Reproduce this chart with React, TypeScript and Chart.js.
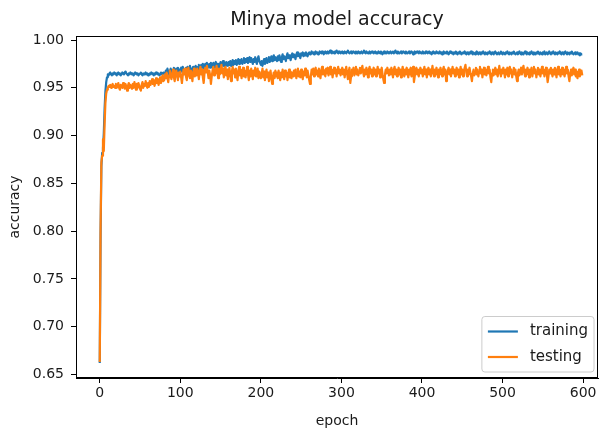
import React, { useEffect, useRef } from 'react';
import { Chart, registerables } from 'chart.js';

Chart.register(...registerables);

const chartTitle = 'Minya model accuracy';
const xAxisTitle = 'epoch';
const yAxisTitle = 'accuracy';
const seriesLabels = ['training', 'testing'];
const seriesColors = ['#1f77b4', '#ff7f0e'];

const xTicks = [0, 100, 200, 300, 400, 500, 600];
const yTicks = [0.65, 0.7, 0.75, 0.8, 0.85, 0.9, 0.95, 1.0];

// accuracy per epoch (0..599)
const trainingAcc = [
  0.662, 0.795, 0.868, 0.882, 0.887, 0.902, 0.928, 0.946, 0.956, 0.961, 0.964, 0.963, 0.965, 0.966, 0.964, 0.963, 0.965, 0.964, 0.966, 0.965,
  0.964, 0.963, 0.965, 0.966, 0.964, 0.965, 0.963, 0.964, 0.966, 0.965, 0.964, 0.966, 0.967, 0.965, 0.964, 0.963, 0.965, 0.964, 0.966, 0.965,
  0.964, 0.965, 0.963, 0.964, 0.966, 0.965, 0.964, 0.965, 0.963, 0.964, 0.965, 0.966, 0.964, 0.963, 0.965, 0.964, 0.965, 0.966, 0.964, 0.965,
  0.963, 0.964, 0.965, 0.964, 0.966, 0.965, 0.964, 0.963, 0.965, 0.964, 0.966, 0.965, 0.964, 0.965, 0.963, 0.964, 0.966, 0.965, 0.964, 0.966,
  0.966, 0.964, 0.968, 0.966, 0.970, 0.967, 0.964, 0.967, 0.970, 0.968, 0.965, 0.969, 0.971, 0.967, 0.965, 0.970, 0.967, 0.971, 0.969, 0.966,
  0.968, 0.971, 0.967, 0.972, 0.968, 0.965, 0.969, 0.971, 0.967, 0.972, 0.969, 0.971, 0.973, 0.968, 0.966, 0.970, 0.972, 0.968, 0.971, 0.973,
  0.971, 0.967, 0.972, 0.974, 0.969, 0.971, 0.974, 0.971, 0.975, 0.970, 0.972, 0.975, 0.972, 0.976, 0.971, 0.973, 0.975, 0.971, 0.976, 0.974,
  0.972, 0.976, 0.971, 0.974, 0.977, 0.972, 0.975, 0.970, 0.975, 0.973, 0.977, 0.972, 0.975, 0.978, 0.973, 0.976, 0.972, 0.977, 0.975, 0.973,
  0.977, 0.974, 0.978, 0.973, 0.976, 0.979, 0.974, 0.978, 0.975, 0.979, 0.974, 0.977, 0.980, 0.975, 0.979, 0.976, 0.980, 0.975, 0.978, 0.981,
  0.976, 0.980, 0.977, 0.981, 0.976, 0.979, 0.982, 0.977, 0.981, 0.978, 0.975, 0.980, 0.977, 0.982, 0.978, 0.975, 0.980, 0.983, 0.978, 0.976,
  0.974, 0.978, 0.973, 0.977, 0.980, 0.975, 0.978, 0.981, 0.976, 0.979, 0.982, 0.977, 0.980, 0.983, 0.978, 0.981, 0.984, 0.979, 0.982, 0.980,
  0.978, 0.983, 0.979, 0.984, 0.980, 0.977, 0.982, 0.985, 0.980, 0.983, 0.981, 0.978, 0.983, 0.986, 0.981, 0.984, 0.982, 0.979, 0.984, 0.986,
  0.982, 0.985, 0.983, 0.980, 0.985, 0.987, 0.983, 0.986, 0.984, 0.981, 0.986, 0.984, 0.987, 0.983, 0.986, 0.984, 0.987, 0.985, 0.983, 0.986,
  0.987, 0.985, 0.986, 0.988, 0.986, 0.987, 0.985, 0.987, 0.988, 0.986, 0.987, 0.985, 0.986, 0.988, 0.987, 0.986, 0.988, 0.987, 0.985, 0.987,
  0.988, 0.986, 0.987, 0.988, 0.986, 0.987, 0.989, 0.987, 0.986, 0.988, 0.987, 0.986, 0.988, 0.987, 0.989, 0.987, 0.986, 0.988, 0.987, 0.986,
  0.987, 0.988, 0.986, 0.987, 0.988, 0.987, 0.986, 0.988, 0.989, 0.987, 0.986, 0.987, 0.988, 0.986, 0.987, 0.988, 0.987, 0.986, 0.988, 0.987,
  0.986, 0.988, 0.987, 0.986, 0.987, 0.988, 0.986, 0.987, 0.989, 0.987, 0.986, 0.988, 0.987, 0.986, 0.987, 0.988, 0.986, 0.987, 0.988, 0.987,
  0.986, 0.987, 0.988, 0.986, 0.987, 0.986, 0.988, 0.987, 0.986, 0.988, 0.987, 0.985, 0.987, 0.988, 0.986, 0.987, 0.986, 0.988, 0.987, 0.986,
  0.987, 0.988, 0.986, 0.987, 0.988, 0.986, 0.987, 0.989, 0.987, 0.986, 0.988, 0.987, 0.986, 0.987, 0.988, 0.986, 0.987, 0.988, 0.987, 0.986,
  0.988, 0.987, 0.986, 0.987, 0.988, 0.986, 0.987, 0.988, 0.987, 0.985, 0.987, 0.988, 0.986, 0.987, 0.988, 0.987, 0.986, 0.988, 0.987, 0.986,
  0.987, 0.988, 0.986, 0.987, 0.986, 0.988, 0.987, 0.986, 0.987, 0.988, 0.986, 0.987, 0.985, 0.987, 0.988, 0.986, 0.987, 0.986, 0.988, 0.987,
  0.986, 0.987, 0.988, 0.986, 0.987, 0.985, 0.987, 0.988, 0.986, 0.987, 0.986, 0.988, 0.987, 0.985, 0.986, 0.988, 0.987, 0.986, 0.987, 0.985,
  0.987, 0.986, 0.988, 0.986, 0.985, 0.987, 0.986, 0.988, 0.987, 0.985, 0.986, 0.987, 0.986, 0.988, 0.986, 0.985, 0.987, 0.986, 0.985, 0.987,
  0.986, 0.988, 0.986, 0.985, 0.987, 0.986, 0.985, 0.987, 0.988, 0.986, 0.985, 0.987, 0.986, 0.985, 0.987, 0.986, 0.988, 0.986, 0.985, 0.987,
  0.986, 0.985, 0.987, 0.986, 0.988, 0.986, 0.985, 0.987, 0.986, 0.985, 0.987, 0.988, 0.986, 0.985, 0.986, 0.987, 0.985, 0.986, 0.988, 0.986,
  0.985, 0.987, 0.986, 0.985, 0.987, 0.986, 0.988, 0.986, 0.985, 0.987, 0.986, 0.985, 0.987, 0.986, 0.988, 0.986, 0.985, 0.986, 0.987, 0.985,
  0.986, 0.988, 0.986, 0.985, 0.987, 0.986, 0.985, 0.987, 0.988, 0.986, 0.985, 0.987, 0.986, 0.985, 0.987, 0.986, 0.988, 0.986, 0.985, 0.987,
  0.986, 0.985, 0.987, 0.986, 0.988, 0.986, 0.985, 0.987, 0.986, 0.985, 0.987, 0.986, 0.988, 0.985, 0.986, 0.987, 0.985, 0.986, 0.988, 0.986,
  0.985, 0.987, 0.986, 0.988, 0.986, 0.985, 0.987, 0.986, 0.985, 0.987, 0.986, 0.988, 0.986, 0.985, 0.987, 0.986, 0.985, 0.987, 0.988, 0.986,
  0.985, 0.987, 0.986, 0.985, 0.987, 0.986, 0.988, 0.986, 0.985, 0.986, 0.987, 0.985, 0.986, 0.987, 0.985, 0.986, 0.984, 0.986, 0.985, 0.985,
];

const testingAcc = [
  0.663, 0.802, 0.872, 0.879, 0.896, 0.884, 0.912, 0.934, 0.944, 0.948, 0.950, 0.952, 0.951, 0.953, 0.950, 0.952, 0.954, 0.951, 0.952, 0.950,
  0.954, 0.950, 0.952, 0.955, 0.950, 0.948, 0.953, 0.951, 0.950, 0.955, 0.952, 0.949, 0.954, 0.951, 0.947, 0.952, 0.955, 0.950, 0.953, 0.951,
  0.949, 0.954, 0.950, 0.956, 0.952, 0.948, 0.954, 0.950, 0.955, 0.952, 0.949, 0.947, 0.953, 0.956, 0.950, 0.954, 0.952, 0.957, 0.953, 0.950,
  0.955, 0.951, 0.957, 0.953, 0.956, 0.959, 0.954, 0.958, 0.952, 0.956, 0.960, 0.955, 0.959, 0.953, 0.957, 0.961, 0.955, 0.959, 0.963, 0.957,
  0.958, 0.964, 0.960, 0.966, 0.961, 0.956, 0.963, 0.968, 0.962, 0.959, 0.965, 0.969, 0.961, 0.957, 0.964, 0.968, 0.963, 0.958, 0.966, 0.962,
  0.967, 0.961, 0.955, 0.963, 0.969, 0.964, 0.970, 0.962, 0.958, 0.966, 0.971, 0.963, 0.960, 0.968, 0.964, 0.957, 0.966, 0.970, 0.962, 0.968,
  0.963, 0.970, 0.966, 0.959, 0.967, 0.972, 0.964, 0.969, 0.961, 0.955, 0.965, 0.971, 0.966, 0.973, 0.967, 0.960, 0.968, 0.963, 0.954, 0.962,
  0.968, 0.972, 0.963, 0.969, 0.965, 0.973, 0.967, 0.960, 0.970, 0.964, 0.968, 0.974, 0.965, 0.970, 0.961, 0.967, 0.972, 0.963, 0.969, 0.959,
  0.965, 0.971, 0.963, 0.957, 0.967, 0.972, 0.965, 0.969, 0.961, 0.970, 0.964, 0.958, 0.967, 0.972, 0.963, 0.969, 0.960, 0.966, 0.971, 0.962,
  0.968, 0.961, 0.966, 0.972, 0.964, 0.958, 0.968, 0.962, 0.970, 0.965, 0.959, 0.968, 0.963, 0.971, 0.962, 0.966, 0.970, 0.960, 0.967, 0.964,
  0.960, 0.965, 0.970, 0.961, 0.967, 0.958, 0.963, 0.969, 0.961, 0.966, 0.957, 0.962, 0.968, 0.960, 0.954, 0.961, 0.966, 0.960, 0.968, 0.962,
  0.966, 0.960, 0.968, 0.963, 0.958, 0.966, 0.961, 0.969, 0.963, 0.959, 0.968, 0.962, 0.966, 0.958, 0.964, 0.969, 0.961, 0.967, 0.960, 0.966,
  0.962, 0.968, 0.963, 0.969, 0.960, 0.966, 0.970, 0.962, 0.967, 0.961, 0.969, 0.965, 0.959, 0.967, 0.963, 0.970, 0.965, 0.961, 0.968, 0.963,
  0.958, 0.954, 0.962, 0.969, 0.964, 0.970, 0.962, 0.967, 0.971, 0.964, 0.968, 0.962, 0.970, 0.966, 0.960, 0.968, 0.972, 0.964, 0.969, 0.965,
  0.962, 0.970, 0.965, 0.971, 0.963, 0.968, 0.972, 0.964, 0.969, 0.961, 0.967, 0.971, 0.965, 0.969, 0.962, 0.968, 0.972, 0.965, 0.969, 0.963,
  0.967, 0.971, 0.964, 0.969, 0.961, 0.967, 0.972, 0.965, 0.959, 0.967, 0.971, 0.955, 0.962, 0.969, 0.965, 0.971, 0.963, 0.968, 0.972, 0.964,
  0.969, 0.963, 0.967, 0.971, 0.965, 0.969, 0.973, 0.966, 0.962, 0.969, 0.964, 0.971, 0.967, 0.961, 0.969, 0.972, 0.965, 0.969, 0.962, 0.967,
  0.971, 0.964, 0.969, 0.962, 0.967, 0.972, 0.965, 0.969, 0.961, 0.967, 0.971, 0.964, 0.959, 0.955, 0.964, 0.969, 0.965, 0.971, 0.967, 0.963,
  0.969, 0.964, 0.971, 0.966, 0.961, 0.969, 0.972, 0.964, 0.969, 0.962, 0.967, 0.971, 0.964, 0.969, 0.961, 0.967, 0.972, 0.966, 0.962, 0.969,
  0.964, 0.971, 0.966, 0.961, 0.969, 0.964, 0.971, 0.962, 0.967, 0.972, 0.956, 0.962, 0.968, 0.971, 0.964, 0.969, 0.962, 0.967, 0.971, 0.965,
  0.969, 0.962, 0.967, 0.972, 0.964, 0.969, 0.961, 0.967, 0.971, 0.964, 0.969, 0.962, 0.967, 0.973, 0.966, 0.962, 0.969, 0.964, 0.971, 0.966,
  0.961, 0.969, 0.964, 0.971, 0.966, 0.962, 0.969, 0.972, 0.964, 0.969, 0.957, 0.963, 0.968, 0.971, 0.964, 0.969, 0.962, 0.967, 0.972, 0.965,
  0.969, 0.962, 0.967, 0.971, 0.964, 0.969, 0.961, 0.967, 0.972, 0.964, 0.969, 0.962, 0.967, 0.971, 0.974, 0.966, 0.962, 0.969, 0.964, 0.971,
  0.966, 0.962, 0.957, 0.965, 0.969, 0.963, 0.967, 0.971, 0.964, 0.969, 0.962, 0.967, 0.972, 0.965, 0.969, 0.961, 0.967, 0.971, 0.964, 0.969,
  0.963, 0.967, 0.972, 0.965, 0.969, 0.961, 0.956, 0.965, 0.969, 0.963, 0.967, 0.971, 0.964, 0.969, 0.962, 0.967, 0.973, 0.966, 0.962, 0.969,
  0.965, 0.971, 0.966, 0.961, 0.969, 0.964, 0.971, 0.962, 0.967, 0.972, 0.965, 0.969, 0.961, 0.967, 0.971, 0.964, 0.969, 0.962, 0.957, 0.965,
  0.969, 0.963, 0.967, 0.971, 0.964, 0.969, 0.973, 0.966, 0.962, 0.969, 0.964, 0.971, 0.967, 0.961, 0.969, 0.964, 0.971, 0.962, 0.967, 0.972,
  0.965, 0.969, 0.961, 0.967, 0.971, 0.964, 0.969, 0.962, 0.967, 0.972, 0.965, 0.969, 0.962, 0.967, 0.971, 0.964, 0.956, 0.962, 0.969, 0.965,
  0.971, 0.966, 0.962, 0.969, 0.964, 0.971, 0.966, 0.961, 0.969, 0.972, 0.964, 0.969, 0.962, 0.967, 0.971, 0.964, 0.969, 0.962, 0.967, 0.972,
  0.965, 0.969, 0.962, 0.957, 0.965, 0.969, 0.963, 0.967, 0.971, 0.964, 0.969, 0.962, 0.967, 0.960, 0.965, 0.969, 0.962, 0.966, 0.968, 0.963,
];

const epochs = trainingAcc.map((_, i) => i);

const FONT = '"DejaVu Sans", sans-serif';
const TEXT_COLOR = '#1a1a1a';

const framePlugin = {
  id: 'mplFrame',
  afterDatasetsDraw(chart: any) {
    const { ctx, chartArea } = chart;
    ctx.save();
    ctx.strokeStyle = '#000';
    ctx.lineWidth = 1;
    ctx.strokeRect(
      Math.round(chartArea.left) + 0.5,
      Math.round(chartArea.top) + 0.5,
      Math.round(chartArea.right - chartArea.left) - 1,
      Math.round(chartArea.bottom - chartArea.top) - 1
    );
    ctx.restore();
  },
};

const legendPlugin = {
  id: 'mplLegend',
  afterDraw(chart: any) {
    const { ctx, chartArea } = chart;
    const fs = 15;
    ctx.save();
    ctx.font = `${fs}px ${FONT}`;
    const ds = chart.data.datasets;
    const textW = Math.max(...ds.map((d: any) => ctx.measureText(d.label).width));
    const pad = 0.4 * fs;
    const handle = 2 * fs;
    const gap = 0.8 * fs;
    const rowH = 1.2 * fs;
    const spacing = 0.5 * fs;
    const w = pad * 2 + handle + gap + textW;
    const h = pad * 2 + rowH * ds.length + spacing * (ds.length - 1);
    const x0 = chartArea.right - 4 - w;
    const y0 = chartArea.bottom - 6 - h;
    const r = 3;
    ctx.beginPath();
    ctx.moveTo(x0 + r, y0);
    ctx.lineTo(x0 + w - r, y0);
    ctx.arcTo(x0 + w, y0, x0 + w, y0 + r, r);
    ctx.lineTo(x0 + w, y0 + h - r);
    ctx.arcTo(x0 + w, y0 + h, x0 + w - r, y0 + h, r);
    ctx.lineTo(x0 + r, y0 + h);
    ctx.arcTo(x0, y0 + h, x0, y0 + h - r, r);
    ctx.lineTo(x0, y0 + r);
    ctx.arcTo(x0, y0, x0 + r, y0, r);
    ctx.closePath();
    ctx.fillStyle = 'rgba(255,255,255,0.8)';
    ctx.fill();
    ctx.strokeStyle = '#cccccc';
    ctx.lineWidth = 1;
    ctx.stroke();
    ds.forEach((d: any, i: number) => {
      const cy = y0 + pad + rowH * i + spacing * i + rowH / 2;
      ctx.strokeStyle = d.borderColor;
      ctx.lineWidth = 2.2;
      ctx.beginPath();
      ctx.moveTo(x0 + pad, cy);
      ctx.lineTo(x0 + pad + handle, cy);
      ctx.stroke();
      ctx.fillStyle = TEXT_COLOR;
      ctx.textBaseline = 'middle';
      ctx.textAlign = 'left';
      ctx.fillText(d.label, x0 + pad + handle + gap, cy);
    });
    ctx.restore();
  },
};

export default function App() {
  const canvasRef = useRef<HTMLCanvasElement | null>(null);

  useEffect(() => {
    const canvas = canvasRef.current;
    if (!canvas) return;
    const series = [trainingAcc, testingAcc];
    const chart = new Chart(canvas, {
      type: 'line',
      data: {
        datasets: series.map((vals, k) => ({
          label: seriesLabels[k],
          data: vals.map((y, i) => ({ x: epochs[i], y })),
          borderColor: seriesColors[k],
          backgroundColor: seriesColors[k],
          borderWidth: 2.2,
          pointRadius: 0,
          tension: 0,
          borderJoinStyle: 'round',
          fill: false,
          order: k === 0 ? 1 : 0,
        })),
      },
      options: {
        responsive: false,
        maintainAspectRatio: false,
        animation: false,
        devicePixelRatio: 1,
        layout: { padding: { left: 0, right: 5, top: 0, bottom: 0 } },
        plugins: {
          legend: { display: false },
          tooltip: { enabled: false },
          title: {
            display: true,
            fullSize: false,
            text: chartTitle,
            color: TEXT_COLOR,
            font: { family: FONT, size: 19, weight: 'normal' },
            padding: { top: 9, bottom: 4.2 },
          },
        },
        scales: {
          x: {
            type: 'linear',
            min: -29.5,
            max: 618.5,
            afterBuildTicks: (s: any) => {
              s.ticks = xTicks.map((v) => ({ value: v }));
            },
            afterFit: (s: any) => {
              s.height = 54;
            },
            grid: { display: true, drawOnChartArea: false, drawTicks: true, tickLength: 5, color: '#000', tickColor: '#000' },
            border: { display: true, color: '#000', width: 1 },
            ticks: {
              color: TEXT_COLOR,
              font: { family: FONT, size: 14 },
              padding: 2,
              maxRotation: 0,
              autoSkip: false,
              callback: (v: any) => String(v),
            },
            title: {
              display: true,
              text: xAxisTitle,
              color: TEXT_COLOR,
              font: { family: FONT, size: 14 },
              padding: { top: 0, bottom: 2 },
            },
          },
          y: {
            type: 'linear',
            min: 0.6463,
            max: 1.0042,
            afterBuildTicks: (s: any) => {
              s.ticks = yTicks.map((v) => ({ value: v }));
            },
            afterFit: (s: any) => {
              s.width = 76;
            },
            grid: { display: true, drawOnChartArea: false, drawTicks: true, tickLength: 5, color: '#000', tickColor: '#000' },
            border: { display: true, color: '#000', width: 1 },
            ticks: {
              color: TEXT_COLOR,
              font: { family: FONT, size: 14 },
              padding: 7,
              autoSkip: false,
              callback: (v: any) => Number(v).toFixed(2),
            },
            title: {
              display: true,
              text: yAxisTitle,
              color: TEXT_COLOR,
              font: { family: FONT, size: 14 },
              padding: { top: 7, bottom: 0 },
            },
          },
        },
      } as any,
      plugins: [framePlugin, legendPlugin],
    });
    return () => chart.destroy();
  }, []);

  return (
    <div style={{ position: 'fixed', left: 0, top: 0, width: 603, height: 432, background: '#fff' }}>
      <canvas ref={canvasRef} width={603} height={432} style={{ display: 'block', width: 603, height: 432 }} />
    </div>
  );
}
